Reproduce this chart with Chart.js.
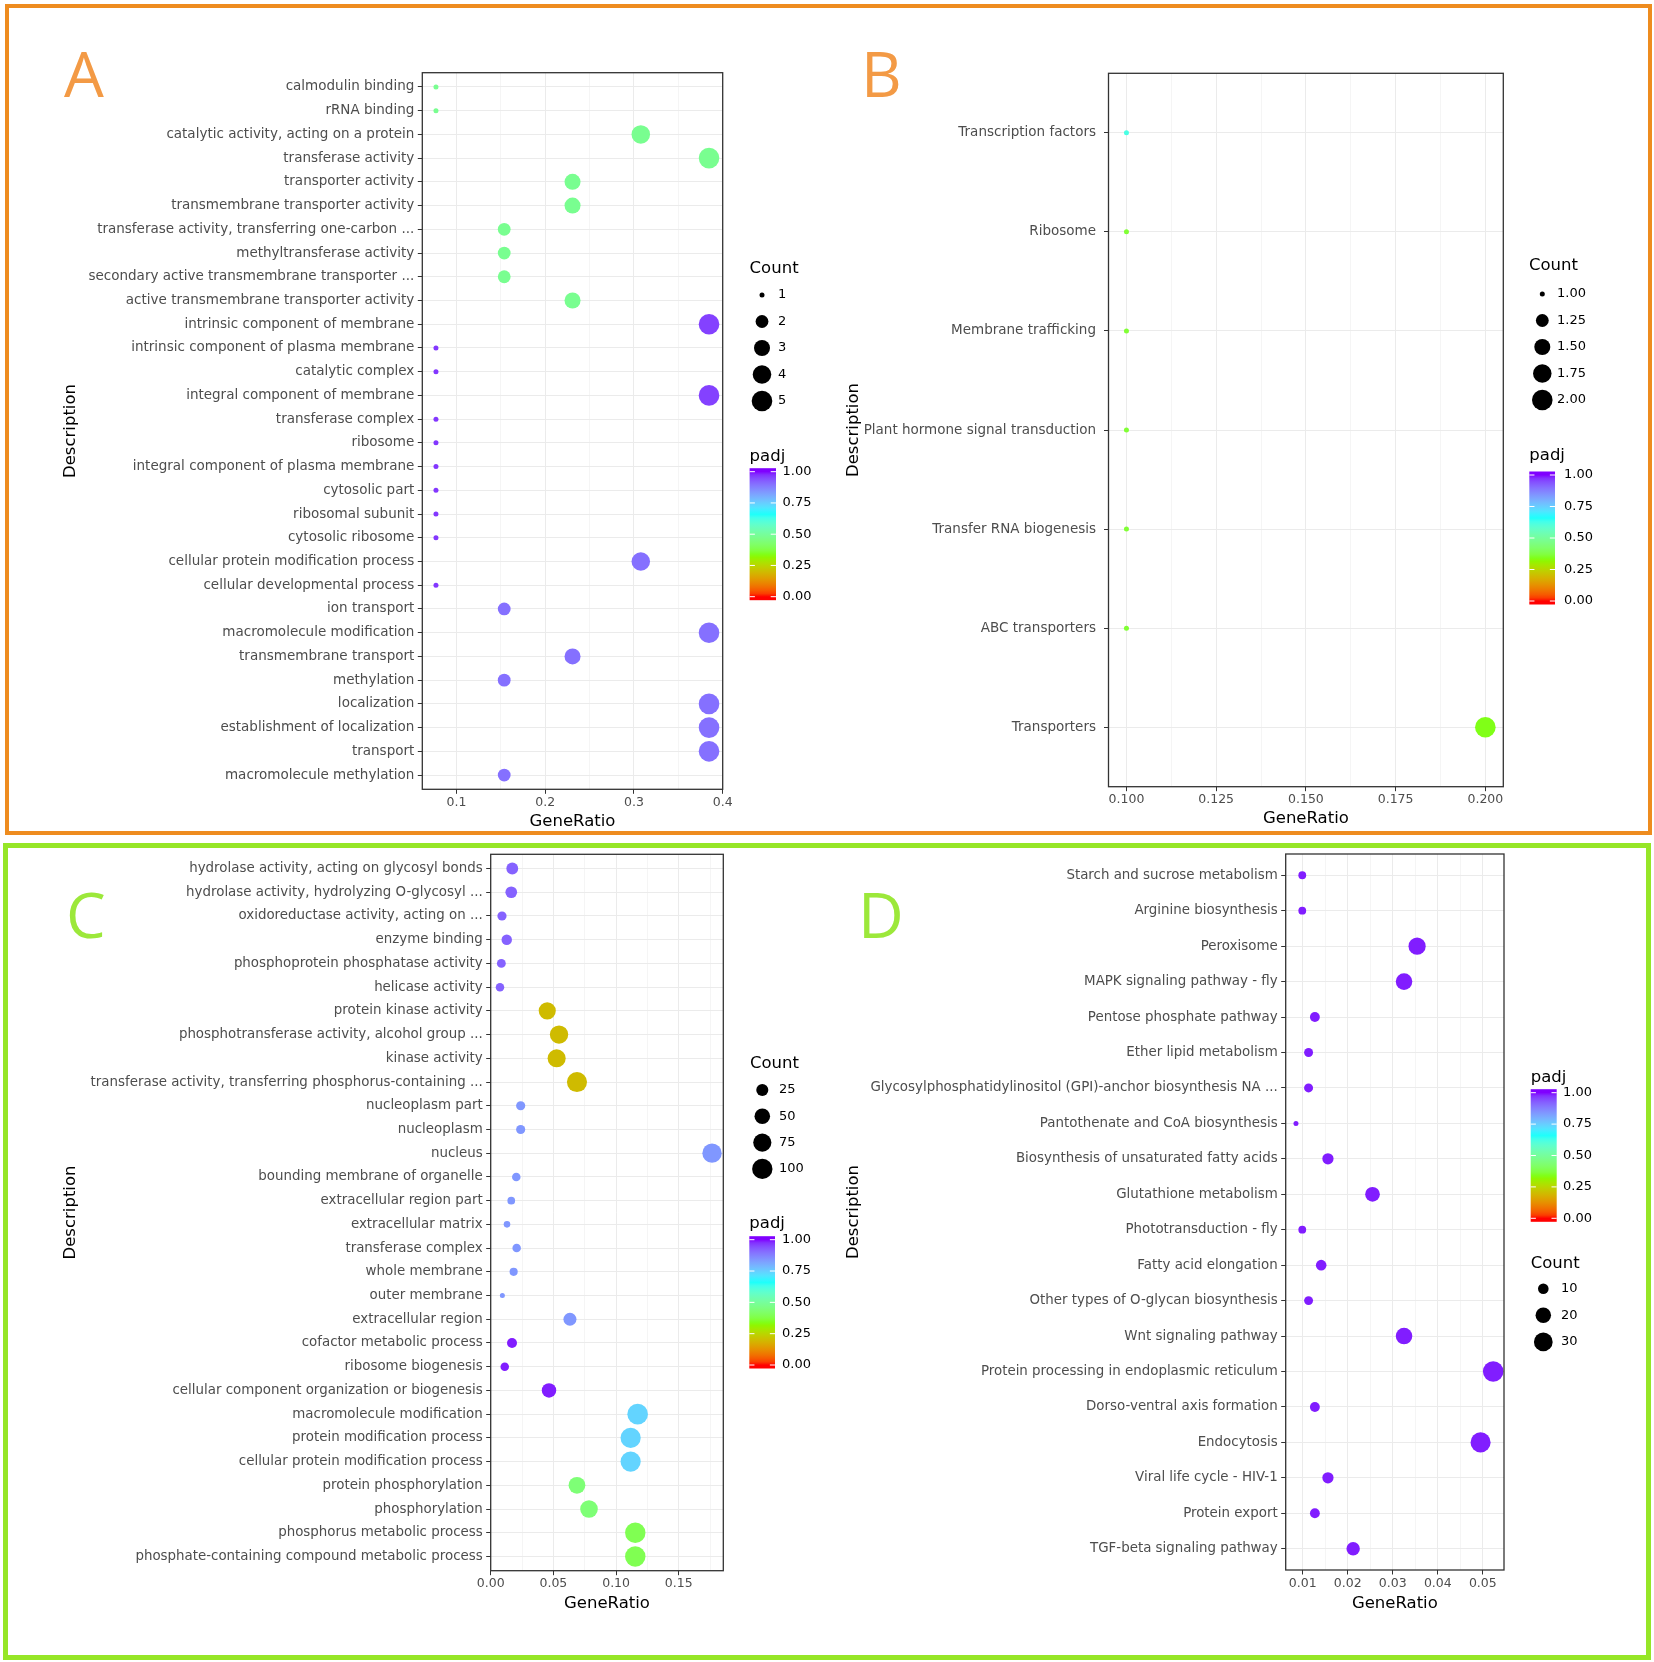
<!DOCTYPE html>
<html>
<head>
<meta charset="utf-8">
<script src="https://cdn.jsdelivr.net/npm/chart.js@4.4.1/dist/chart.umd.min.js"></script>
<style>
  html, body { margin: 0; padding: 0; background: #fff; }
  #page { position: relative; width: 1654px; height: 1662px; overflow: hidden; }
  canvas { position: absolute; left: 0; top: 0; }
  .box { position: absolute; box-sizing: border-box; }
  .letter { position: absolute; font-family: 'Open Sans', sans-serif; font-size: 63px; line-height: 63px; }
</style>
</head>
<body>
<div id="page">
  <div class="box" style="left:5px;top:4px;width:1647px;height:831px;border:4px solid #ee8c1f"></div>
  <div class="box" style="left:3px;top:843px;width:1648px;height:817px;border:5px solid #96e627"></div>
  <div class="letter" style="left:64px;top:41px;color:#f39a45">A</div>
  <div class="letter" style="left:861px;top:41px;color:#f39a45">B</div>
  <div class="letter" style="left:66px;top:882px;color:#9ce83a">C</div>
  <div class="letter" style="left:858px;top:882px;color:#9ce83a">D</div>
  <canvas id="chartA" width="1654" height="1662"></canvas>
  <canvas id="chartB" width="1654" height="1662"></canvas>
  <canvas id="chartC" width="1654" height="1662"></canvas>
  <canvas id="chartD" width="1654" height="1662"></canvas>
</div>
<script>
'use strict';

// ---- panel A: GO terms ----
const aLabels = [
  'calmodulin binding', 'rRNA binding', 'catalytic activity, acting on a protein',
  'transferase activity', 'transporter activity', 'transmembrane transporter activity',
  'transferase activity, transferring one-carbon ...', 'methyltransferase activity',
  'secondary active transmembrane transporter ...', 'active transmembrane transporter activity',
  'intrinsic component of membrane', 'intrinsic component of plasma membrane', 'catalytic complex',
  'integral component of membrane', 'transferase complex', 'ribosome',
  'integral component of plasma membrane', 'cytosolic part', 'ribosomal subunit', 'cytosolic ribosome',
  'cellular protein modification process', 'cellular developmental process', 'ion transport',
  'macromolecule modification', 'transmembrane transport', 'methylation', 'localization',
  'establishment of localization', 'transport', 'macromolecule methylation'
];
const aRatio = [0.0769, 0.0769, 0.3077, 0.3846, 0.2308, 0.2308, 0.1538, 0.1538, 0.1538, 0.2308,
  0.3846, 0.0769, 0.0769, 0.3846, 0.0769, 0.0769, 0.0769, 0.0769, 0.0769, 0.0769,
  0.3077, 0.0769, 0.1538, 0.3846, 0.2308, 0.1538, 0.3846, 0.3846, 0.3846, 0.1538];
const aCount = [1, 1, 4, 5, 3, 3, 2, 2, 2, 3, 5, 1, 1, 5, 1, 1, 1, 1, 1, 1, 4, 1, 2, 5, 3, 2, 5, 5, 5, 2];
const aPadj = [0.48, 0.48, 0.48, 0.48, 0.48, 0.48, 0.48, 0.48, 0.48, 0.48,
  0.96, 0.97, 0.97, 0.96, 0.97, 0.97, 0.97, 0.97, 0.97, 0.97,
  0.9, 0.97, 0.9, 0.9, 0.9, 0.9, 0.9, 0.9, 0.9, 0.9];
const aTicks = [0.1, 0.2, 0.3, 0.4];
const aMinor = [0.15, 0.25, 0.35];
const aCountKey = [1, 2, 3, 4, 5];

// ---- panel B: KEGG orthology ----
const bLabels = ['Transcription factors', 'Ribosome', 'Membrane trafficking',
  'Plant hormone signal transduction', 'Transfer RNA biogenesis', 'ABC transporters', 'Transporters'];
const bRatio = [0.1, 0.1, 0.1, 0.1, 0.1, 0.1, 0.2];
const bCount = [1, 1, 1, 1, 1, 1, 2];
const bPadj = [0.62, 0.36, 0.36, 0.36, 0.36, 0.36, 0.34];
const bTicks = [0.1, 0.125, 0.15, 0.175, 0.2];
const bMinor = [0.1125, 0.1375, 0.1625, 0.1875];
const bCountKey = [1, 1.25, 1.5, 1.75, 2];

// ---- panel C: GO terms ----
const cLabels = [
  'hydrolase activity, acting on glycosyl bonds', 'hydrolase activity, hydrolyzing O-glycosyl ...',
  'oxidoreductase activity, acting on ...', 'enzyme binding', 'phosphoprotein phosphatase activity',
  'helicase activity', 'protein kinase activity', 'phosphotransferase activity, alcohol group ...',
  'kinase activity', 'transferase activity, transferring phosphorus-containing ...',
  'nucleoplasm part', 'nucleoplasm', 'nucleus', 'bounding membrane of organelle',
  'extracellular region part', 'extracellular matrix', 'transferase complex', 'whole membrane',
  'outer membrane', 'extracellular region', 'cofactor metabolic process', 'ribosome biogenesis',
  'cellular component organization or biogenesis', 'macromolecule modification',
  'protein modification process', 'cellular protein modification process', 'protein phosphorylation',
  'phosphorylation', 'phosphorus metabolic process', 'phosphate-containing compound metabolic process'
];
const cRatio = [0.0172, 0.0164, 0.0090, 0.0128, 0.0085, 0.0074, 0.0451, 0.0545, 0.0526, 0.0688,
  0.0239, 0.0239, 0.1765, 0.0204, 0.0164, 0.0130, 0.0207, 0.0183, 0.0093, 0.0632,
  0.0170, 0.0112, 0.0465, 0.1172, 0.1116, 0.1116, 0.0688, 0.0784, 0.1153, 0.1153];
const cCount = [24, 23, 12, 17, 11, 10, 64, 77, 74, 97, 12, 12, 88, 10, 8, 6, 10, 9, 5, 31,
  15, 10, 41, 103, 98, 98, 61, 69, 101, 101];
const cPadj = [0.92, 0.92, 0.92, 0.92, 0.92, 0.92, 0.2, 0.2, 0.2, 0.2,
  0.84, 0.84, 0.84, 0.84, 0.84, 0.84, 0.84, 0.84, 0.84, 0.84,
  0.99, 0.99, 0.99, 0.74, 0.74, 0.74, 0.44, 0.44, 0.39, 0.39];
const cTicks = [0, 0.05, 0.1, 0.15];
const cMinor = [0.025, 0.075, 0.125, 0.175];
const cCountKey = [25, 50, 75, 100];

// ---- panel D: KEGG pathways ----
const dLabels = [
  'Starch and sucrose metabolism', 'Arginine biosynthesis', 'Peroxisome', 'MAPK signaling pathway - fly',
  'Pentose phosphate pathway', 'Ether lipid metabolism',
  'Glycosylphosphatidylinositol (GPI)-anchor biosynthesis NA ...', 'Pantothenate and CoA biosynthesis',
  'Biosynthesis of unsaturated fatty acids', 'Glutathione metabolism', 'Phototransduction - fly',
  'Fatty acid elongation', 'Other types of O-glycan biosynthesis', 'Wnt signaling pathway',
  'Protein processing in endoplasmic reticulum', 'Dorso-ventral axis formation', 'Endocytosis',
  'Viral life cycle - HIV-1', 'Protein export', 'TGF-beta signaling pathway'
];
const dRatio = [0.0099, 0.0099, 0.0354, 0.0325, 0.0127, 0.0113, 0.0113, 0.0085, 0.0156, 0.0255,
  0.0099, 0.0141, 0.0113, 0.0325, 0.0523, 0.0127, 0.0495, 0.0156, 0.0127, 0.0212];
const dCount = [7, 7, 25, 23, 9, 8, 8, 6, 11, 18, 7, 10, 8, 23, 37, 9, 35, 11, 9, 15];
const dPadj = [0.99, 0.99, 0.99, 0.99, 0.99, 0.99, 0.99, 0.99, 0.99, 0.99,
  0.99, 0.99, 0.99, 0.99, 0.99, 0.99, 0.99, 0.99, 0.99, 0.99];
const dTicks = [0.01, 0.02, 0.03, 0.04, 0.05];
const dMinor = [0.015, 0.025, 0.035, 0.045];
const dCountKey = [10, 20, 30];

const padjKey = [0, 0.25, 0.5, 0.75, 1];

const FONT = 'DejaVu Sans';

// padj colours: rainbow(4) blended in Lab space, like ggplot's gradientn
const padjColours = ['#FF0000', '#80FF00', '#00FFFF', '#8000FF'];

function hexToLab(hex) {
  const c = [1, 3, 5].map(i => parseInt(hex.substr(i, 2), 16) / 255)
    .map(v => v <= 0.04045 ? v / 12.92 : Math.pow((v + 0.055) / 1.055, 2.4));
  const x = (0.4124 * c[0] + 0.3576 * c[1] + 0.1805 * c[2]) / 0.95047;
  const y = 0.2126 * c[0] + 0.7152 * c[1] + 0.0722 * c[2];
  const z = (0.0193 * c[0] + 0.1192 * c[1] + 0.9505 * c[2]) / 1.08883;
  const f = t => t > 0.008856 ? Math.cbrt(t) : 7.787 * t + 16 / 116;
  return [116 * f(y) - 16, 500 * (f(x) - f(y)), 200 * (f(y) - f(z))];
}

function labToRgb(L, a, b) {
  const fy = (L + 16) / 116, fx = fy + a / 500, fz = fy - b / 200;
  const inv = t => t * t * t > 0.008856 ? t * t * t : (t - 16 / 116) / 7.787;
  const x = inv(fx) * 0.95047, y = inv(fy), z = inv(fz) * 1.08883;
  const r = 3.2406 * x - 1.5372 * y - 0.4986 * z;
  const g = -0.9689 * x + 1.8758 * y + 0.0415 * z;
  const bl = 0.0557 * x - 0.2040 * y + 1.0570 * z;
  const gam = v => {
    v = v <= 0.0031308 ? 12.92 * v : 1.055 * Math.pow(v, 1 / 2.4) - 0.055;
    return Math.round(Math.min(1, Math.max(0, v)) * 255);
  };
  return 'rgb(' + gam(r) + ',' + gam(g) + ',' + gam(bl) + ')';
}

const labStops = padjColours.map(hexToLab);

function padjColour(p) {
  const n = labStops.length - 1;
  const pos = Math.min(Math.max(p, 0), 1) * n;
  const i = Math.min(Math.floor(pos), n - 1);
  const t = pos - i;
  const s = labStops[i], e = labStops[i + 1];
  return labToRgb(s[0] + (e[0] - s[0]) * t, s[1] + (e[1] - s[1]) * t, s[2] + (e[2] - s[2]) * t);
}

// point size: area scale between the smallest and largest count
function sizeScale(counts) {
  const lo = Math.min(...counts), hi = Math.max(...counts);
  return c => 2.5 + 7.8 * Math.sqrt(Math.max(0, c - lo) / (hi - lo));
}

function drawCountKey(ctx, k, size) {
  ctx.fillStyle = '#000';
  ctx.textAlign = 'left';
  ctx.textBaseline = 'middle';
  ctx.font = '16.5px "' + FONT + '"';
  ctx.fillText('Count', k.x, k.titleY);
  ctx.font = '13px "' + FONT + '"';
  k.values.forEach((v, i) => {
    const y = k.dotY + i * k.step;
    ctx.beginPath();
    ctx.arc(k.dotX, y, size(v), 0, Math.PI * 2);
    ctx.fill();
    ctx.fillText(k.text(v), k.labelX, y);
  });
}

function drawPadjKey(ctx, k) {
  ctx.fillStyle = '#000';
  ctx.textAlign = 'left';
  ctx.textBaseline = 'middle';
  ctx.font = '16.5px "' + FONT + '"';
  ctx.fillText('padj', k.x, k.titleY);
  const top = k.y1 - 3.5, bottom = k.y0 + 3.5;
  const grad = ctx.createLinearGradient(0, bottom, 0, top);
  for (let i = 0; i <= 40; i++) {
    const pos = i / 40;
    const y = bottom + (top - bottom) * pos;
    const v = (k.y0 - y) / (k.y0 - k.y1);
    grad.addColorStop(pos, padjColour(v));
  }
  ctx.fillStyle = grad;
  ctx.fillRect(k.x, top, k.w, bottom - top);
  ctx.strokeStyle = '#fff';
  ctx.lineWidth = 1;
  ctx.font = '13px "' + FONT + '"';
  ctx.fillStyle = '#000';
  padjKey.forEach(v => {
    const y = k.y0 + (k.y1 - k.y0) * v;
    ctx.beginPath();
    ctx.moveTo(k.x, y); ctx.lineTo(k.x + k.w * 0.2, y);
    ctx.moveTo(k.x + k.w * 0.8, y); ctx.lineTo(k.x + k.w, y);
    ctx.stroke();
    ctx.fillText(v.toFixed(2), k.labelX, y);
  });
}

function dotPlot(id, p) {
  const size = sizeScale(p.count);
  const n = p.labels.length;
  const padLeft = p.box.titleX - 9.9;
  const axisBottom = p.box.titleY + 9.9;
  const tickList = p.ticks.map(v => ({ value: v }))
    .concat(p.minor.map(v => ({ value: v, minor: true })))
    .sort((u, w) => u.value - w.value);

  const keys = {
    id: 'keys' + id,
    afterDatasetsDraw(chart) {
      const ctx = chart.ctx, area = chart.chartArea;
      ctx.save();
      ctx.strokeStyle = '#333333';
      ctx.lineWidth = 1.3;
      ctx.strokeRect(area.left, area.top, area.right - area.left, area.bottom - area.top);
      ctx.restore();
    },
    afterDraw(chart) {
      const ctx = chart.ctx;
      ctx.save();
      drawCountKey(ctx, p.countKey, size);
      drawPadjKey(ctx, p.padjKey);
      ctx.restore();
    }
  };

  return new Chart(document.getElementById(id), {
    type: 'scatter',
    data: {
      datasets: [{
        data: p.ratio.map((v, i) => ({ x: v, y: i + 1 })),
        pointRadius: ctx => size(p.count[ctx.dataIndex]),
        pointHoverRadius: ctx => size(p.count[ctx.dataIndex]),
        backgroundColor: ctx => padjColour(p.padj[ctx.dataIndex]),
        borderWidth: 0,
        clip: 0
      }]
    },
    options: {
      responsive: false,
      animation: false,
      events: [],
      layout: {
        padding: { left: padLeft, top: p.box.top, right: 1654 - p.box.right, bottom: 1662 - axisBottom }
      },
      plugins: { legend: { display: false }, tooltip: { enabled: false } },
      scales: {
        x: {
          type: 'linear',
          bounds: 'data',
          min: p.range[0],
          max: p.range[1],
          afterBuildTicks: ax => { ax.ticks = tickList.map(t => Object.assign({}, t)); },
          afterFit: ax => { ax.height = axisBottom - p.box.bottom; },
          ticks: {
            autoSkip: false,
            maxRotation: 0,
            padding: 1.5,
            color: '#4d4d4d',
            font: { family: FONT, size: 12.5 },
            callback: (v, i, t) => t[i].minor ? '' : v.toFixed(p.digits)
          },
          grid: {
            color: ctx => ctx.tick && ctx.tick.minor ? '#f5f5f5' : '#ebebeb',
            tickColor: ctx => ctx.tick && ctx.tick.minor ? 'rgba(0,0,0,0)' : '#333333',
            tickLength: 4.5,
            lineWidth: 1
          },
          border: { display: false },
          title: { display: true, text: 'GeneRatio', color: '#000', padding: 0, font: { family: FONT, size: 16.5 } }
        },
        y: {
          type: 'linear',
          bounds: 'data',
          reverse: true,
          min: 0.4,
          max: n + 0.6,
          afterBuildTicks: ax => { ax.ticks = p.labels.map((_, i) => ({ value: i + 1 })); },
          afterFit: ax => { ax.width = p.box.left - padLeft; },
          ticks: {
            autoSkip: false,
            padding: p.labelGap,
            color: '#4d4d4d',
            font: { family: FONT, size: p.labelSize },
            callback: v => p.labels[Math.round(v) - 1]
          },
          grid: { color: '#ebebeb', tickColor: '#333333', tickLength: 4.5, lineWidth: 1 },
          border: { display: false },
          title: { display: true, text: 'Description', color: '#000', padding: 0, font: { family: FONT, size: 16.5 } }
        }
      }
    },
    plugins: [keys]
  });
}

dotPlot('chartA', {
  labels: aLabels, ratio: aRatio, count: aCount, padj: aPadj,
  ticks: aTicks, minor: aMinor, range: [0.0615, 0.4], digits: 1, labelSize: 13.5, labelGap: 3.5,
  box: { left: 422.3, right: 722.7, top: 72.7, bottom: 789.3, titleX: 71, titleY: 822 },
  countKey: { values: aCountKey, text: v => String(v), x: 749.6, titleY: 268.5, dotX: 762, dotY: 295, step: 26.5, labelX: 778 },
  padjKey: { x: 749.6, w: 26.4, titleY: 456.5, y1: 471.7, y0: 596.7, labelX: 782.5 }
});

dotPlot('chartB', {
  labels: bLabels, ratio: bRatio, count: bCount, padj: bPadj,
  ticks: bTicks, minor: bMinor, range: [0.095, 0.205], digits: 3, labelSize: 13.5, labelGap: 8,
  box: { left: 1108.5, right: 1503.3, top: 73.3, bottom: 786.7, titleX: 853.5, titleY: 819 },
  countKey: { values: bCountKey, text: v => v.toFixed(2), x: 1529, titleY: 265.3, dotX: 1542.3, dotY: 294, step: 26.5, labelX: 1557 },
  padjKey: { x: 1529.3, w: 25.7, titleY: 455.7, y1: 475, y0: 601, labelX: 1564 }
});

dotPlot('chartC', {
  labels: cLabels, ratio: cRatio, count: cCount, padj: cPadj,
  ticks: cTicks, minor: cMinor, range: [0, 0.1855], digits: 2, labelSize: 13.4, labelGap: 3.5,
  box: { left: 490.7, right: 723.3, top: 854.3, bottom: 1570.7, titleX: 71, titleY: 1603.3 },
  countKey: { values: cCountKey, text: v => String(v), x: 750, titleY: 1064, dotX: 762.3, dotY: 1090, step: 26.3, labelX: 779 },
  padjKey: { x: 749.3, w: 25.7, titleY: 1224, y1: 1239.7, y0: 1365, labelX: 782 }
});

dotPlot('chartD', {
  labels: dLabels, ratio: dRatio, count: dCount, padj: dPadj,
  ticks: dTicks, minor: dMinor, range: [0.00622, 0.0547], digits: 2, labelSize: 13.4, labelGap: 3.5,
  box: { left: 1285.7, right: 1504, top: 854, bottom: 1570, titleX: 853.5, titleY: 1603.3 },
  countKey: { values: dCountKey, text: v => String(v), x: 1530.7, titleY: 1263.3, dotX: 1543.3, dotY: 1288.7, step: 26.6, labelX: 1561 },
  padjKey: { x: 1530.7, w: 26, titleY: 1077.7, y1: 1092.7, y0: 1218.3, labelX: 1563 }
});
</script>
</body>
</html>
